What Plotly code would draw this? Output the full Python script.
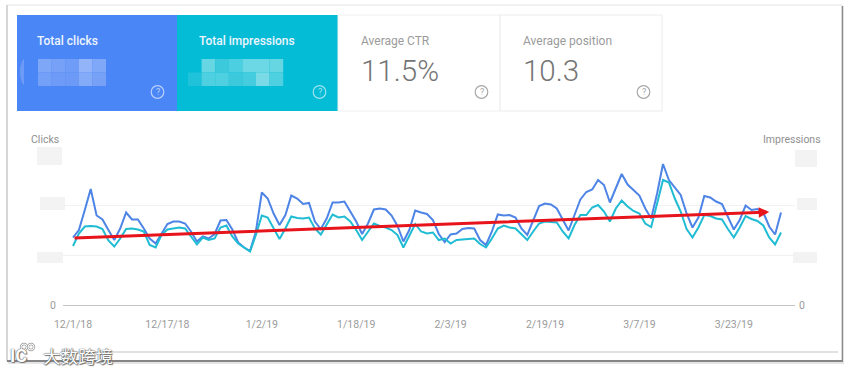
import plotly.graph_objects as go
import pandas as pd

W, H = 851, 372

start_date = "2018-12-01"
clicks = [135,150,190,232,179,171,150,130,153,185,171,171,153,133,123,142,162,167,167,163,147,127,137,133,142,169,170,151,125,115,108,147,225,213,183,160,180,219,213,
          202,204,167,152,173,205,205,207,187,167,142,163,191,193,191,179,158,127,150,189,185,182,170,142,126,141,143,152,154,153,130,120,147,181,179,180,175,153,140,169,198,203,201,
          193,170,149,180,211,226,231,250,240,205,233,262,241,229,219,193,173,223,282,250,235,220,183,155,175,218,215,207,202,175,151,170,199,190,192,185,157,141,185]
impressions = [118,143,157,158,157,152,129,117,133,152,153,151,147,120,115,140,151,153,155,153,137,121,135,130,133,155,159,137,123,115,107,140,179,175,153,132,153,177,174,
               173,175,153,141,160,181,175,177,167,150,130,147,163,158,155,150,140,115,137,162,147,143,145,130,133,123,130,131,132,133,122,115,133,153,159,155,153,142,130,147,163,167,166,
               165,147,133,160,180,180,195,200,187,167,193,209,197,188,183,163,156,203,250,245,213,187,152,135,155,180,178,173,171,152,135,155,178,172,168,159,135,121,145]
tick_dates = ["2018-12-01","2018-12-17","2019-01-02","2019-01-18","2019-02-03","2019-02-19","2019-03-07","2019-03-23"]
tick_labels = ["12/1/18","12/17/18","1/2/19","1/18/19","2/3/19","2/19/19","3/7/19","3/23/19"]
y_ticks = [0, 100, 200, 300]
y_labels = ["0", "", "", ""]
trend_from = ("2018-12-01", 134)
trend_to = ("2019-03-29", 186)

card_titles = ["Total clicks", "Total impressions", "Average CTR", "Average position"]
card_values = ["", "", "11.5%", "10.3"]

dates = pd.date_range(start_date, periods=len(clicks))
day = pd.Timedelta(days=1)
PX_DAY = 5.9
X0, X1, Y0, Y1 = 63, 795, 305, 155
x_lo = pd.Timestamp(start_date) - day * ((73 - X0) / PX_DAY)
x_hi = pd.Timestamp(start_date) + day * ((X1 - 73) / PX_DAY)

def px(x): return x / W
def py(y): return 1 - y / H

shapes = []
def rect(x0, y0, x1, y1, fill="rgba(0,0,0,0)", line=None, lw=1, layer="below"):
    shapes.append(dict(type="rect", xref="paper", yref="paper", x0=px(x0), x1=px(x1), y0=py(y0), y1=py(y1),
                       fillcolor=fill, line=dict(color=line or "rgba(0,0,0,0)", width=lw if line else 0), layer=layer))
def oval(cx, cy, r, fill="rgba(0,0,0,0)", line=None, lw=1.2, layer="below", ry=None):
    ry = ry or r
    shapes.append(dict(type="circle", xref="paper", yref="paper", x0=px(cx-r), x1=px(cx+r), y0=py(cy-ry), y1=py(cy+ry),
                       fillcolor=fill, line=dict(color=line or "rgba(0,0,0,0)", width=lw if line else 0), layer=layer))
def hline(x0, x1, y, color, w=1, layer="below"):
    shapes.append(dict(type="line", xref="paper", yref="paper", x0=px(x0), x1=px(x1), y0=py(y), y1=py(y),
                       line=dict(color=color, width=w), layer=layer))
def vline(x, y0, y1, color, w=1):
    shapes.append(dict(type="line", xref="paper", yref="paper", x0=px(x), x1=px(x), y0=py(y0), y1=py(y1),
                       line=dict(color=color, width=w), layer="below"))

# outer panel
rect(7, 5, 842, 361, fill="#ffffff", line="#e4e4e4")
vline(842.5, 6, 362, "#8a8a8a", 1.5)
vline(7, 5, 361, "#bdbdbd", 1)
hline(7, 843, 361, "#858585", 2)
hline(8, 844, 363, "#dddddd", 1.5)
hline(60, 838, 352, "#c4c4c4", 1)

# cards
rect(17, 15, 177, 111, fill="#4a86f5")
rect(177, 15, 338, 111, fill="#05bcd6")
rect(338, 15, 500, 111, fill="#ffffff", line="#f0f0f0")
rect(500, 15, 662, 111, fill="#ffffff", line="#ececec")

# blurred figures of the two coloured cards
def mosaic(x, w, rows):
    for r, row in enumerate(rows):
        for c, col in enumerate(row):
            if col:
                rect(x + c*w, 59 + r*13.5, x + (c+1)*w, 59 + (r+1)*13.5, fill=col)
mosaic(38, 13.6, [["#7ea7f8","#76a1f7","#6f9cf7","#93b4f9","#80a8f8"],
                  ["#74a0f7","#6d9bf7","#6c9af6","#84abf8","#76a1f7"]])
mosaic(188, 13.6, [[None,"#66d6e3","#3cc9dc","#4ccfe0","#6dd8e5","#6dd8e5","#66d6e3"],
                   ["#20c2da","#4fd0e0","#4fd0e0","#3cc9dc","#45ccde","#7adbe7","#4fd0e0"]])
oval(26, 72, 6, fill="#6d9bf7", ry=14)
rect(24, 56, 38, 88, fill="#4a86f5")

# blurred tick labels
for x0, x1, y0, y1 in [(37,62,147,165),(40,65,197,210),(37,63,252,263),(795,817,150,167),(797,817,198,210),(793,817,252,263)]:
    shapes.append(dict(type="rect", xref="paper", yref="paper", x0=px(x0), x1=px(x1), y0=py(y0), y1=py(y1),
                       fillcolor="#f3f3f3", line=dict(width=0), layer="below"))

ann = []
def text(x, y, s, size, color, anchor="left", family="Roboto, sans-serif", **font):
    ann.append(dict(xref="paper", yref="paper", x=px(x), y=py(y), text=s, showarrow=False, xanchor=anchor, yanchor="middle",
                    font=dict(size=size, color=color, family=family, **font)))

tx = [34.5, 196.5, 358.5, 520.5]
for i, t in enumerate(card_titles):
    if i < 2:
        text(tx[i], 40.5, t, 12, "#eef5ff", weight=500)
    else:
        text(tx[i], 41, t, 12, "#9b9b9b")
    if card_values[i]:
        text(tx[i], 71, card_values[i], 29.5, "#757575", weight=300)
    cx = [157.5, 319.5, 481.5, 643.5][i]
    c = "#b9d0fb" if i == 0 else "#9be3ee" if i == 1 else "#a8a8a8"
    oval(cx, 92, 6.3, line=c)
    text(cx, 92.3, "?", 9, c, anchor="center")

text(28.5, 139, "Clicks", 10.5, "#8f8f8f")
text(822.5, 139, "Impressions", 10.5, "#8f8f8f", anchor="right")

# watermark
outline = "0 0 1px #555555, 0 0 1px #555555, 1px 1px 1px #777777"
for cx in (24, 31):
    oval(cx, 347, 3, line="#a0a0a0", lw=2.4, layer="above")
    oval(cx, 347, 3, line="#ffffff", lw=1, layer="above")
text(7.5, 355, "IC", 18, "#ffffff", shadow=outline, weight=700)
text(40.5, 355, "大数跨境", 17.5, "#ffffff", family="Noto Sans CJK SC", shadow=outline)

# trend arrow
ann.append(dict(xref="x", yref="y", axref="x", ayref="y", x=trend_to[0], y=trend_to[1], ax=trend_from[0], ay=trend_from[1],
                text="", showarrow=True, arrowhead=2, arrowsize=0.7, arrowwidth=3, arrowcolor="#e8141c"))

fig = go.Figure()
fig.add_trace(go.Scatter(x=dates, y=clicks, mode="lines", name="Clicks", line=dict(color="#4d84e6", width=2), yaxis="y"))
fig.add_trace(go.Scatter(x=dates, y=impressions, mode="lines", name="Impressions", line=dict(color="#1fbcd3", width=2), yaxis="y2"))

axis_font = dict(family="Roboto, sans-serif", size=10.5, color="#9b9b9b")
fig.update_layout(
    width=W, height=H, margin=dict(l=0, r=0, t=0, b=0, autoexpand=False), showlegend=False,
    paper_bgcolor="#ffffff", plot_bgcolor="rgba(0,0,0,0)", shapes=shapes, annotations=ann,
    xaxis=dict(domain=[px(X0), px(X1)], range=[x_lo, x_hi], tickmode="array", tickvals=tick_dates, ticktext=tick_labels,
               tickfont=axis_font, showgrid=False, zeroline=False, showline=False, ticks="", ticklabelstandoff=11, tickangle=0, automargin=False),
    yaxis=dict(domain=[py(Y0), py(Y1)], range=[0, 300], tickmode="array", tickvals=y_ticks, ticktext=y_labels,
               tickfont=axis_font, showgrid=True, gridcolor="#f1f1f1", gridwidth=1, zeroline=True, zerolinecolor="#c4c4c4", zerolinewidth=1,
               showline=False, ticks="", ticklabelstandoff=6, automargin=False),
    yaxis2=dict(domain=[py(Y0), py(Y1)], range=[0, 300], overlaying="y", side="right", anchor="x", tickmode="array",
                tickvals=y_ticks, ticktext=y_labels, tickfont=axis_font, showgrid=False, zeroline=False, showline=False,
                ticks="", ticklabelstandoff=3, automargin=False),
)
fig.write_html("out.html", config=dict(displayModeBar=False),
               post_script="document.body.style.margin='0';document.body.style.overflow='hidden';window.dispatchEvent(new Event('resize'));")
